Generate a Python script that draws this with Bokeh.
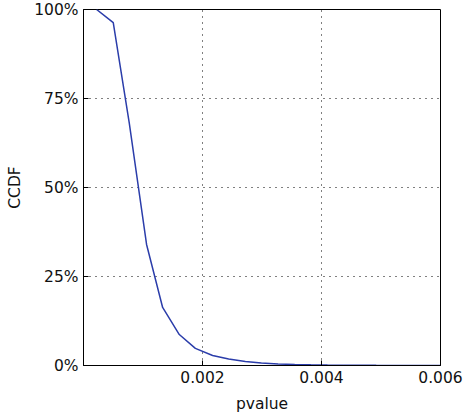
from bokeh.plotting import figure
from bokeh.models import FixedTicker, NumeralTickFormatter, Range1d
from bokeh.embed import file_html
from bokeh.resources import INLINE

pvalue = [0.00022, 0.00050, 0.00077, 0.00106, 0.00133, 0.00161, 0.00188, 0.00217,
          0.00244, 0.00272, 0.00299, 0.00327, 0.00355, 0.00382, 0.00410, 0.00437,
          0.00465, 0.00492, 0.00520, 0.00547, 0.00575, 0.00600]
ccdf = [1.000, 0.963, 0.68, 0.34, 0.163, 0.087, 0.048, 0.028,
        0.018, 0.011, 0.007, 0.0045, 0.003, 0.002, 0.0013, 0.0009,
        0.0006, 0.0004, 0.0003, 0.0002, 0.0001, 0.0]
x_ticks = [0.002, 0.004, 0.006]
x_tick_labels = ["0.002", "0.004", "0.006"]
y_ticks = [0.0, 0.25, 0.5, 0.75, 1.0]

FONT = "DejaVu Sans"

p = figure(width=464, height=415, output_backend="svg", toolbar_location=None,
           x_range=Range1d(0, 0.006), y_range=Range1d(0, 1.0),
           min_border_left=83, min_border_right=24, min_border_top=9, min_border_bottom=50)

p.line(pvalue, ccdf, line_color="#2b3daa", line_width=1.5)

for ax in (p.xaxis[0], p.yaxis[0]):
    ax.major_label_text_font = FONT
    ax.major_label_text_font_size = "15.5px"
    ax.major_label_text_color = "#111111"
    ax.axis_label_text_font = FONT
    ax.axis_label_text_font_size = "15.5px"
    ax.axis_label_text_font_style = "normal"
    ax.axis_label_text_color = "#111111"
    ax.major_tick_in = 5
    ax.major_tick_out = 0
    ax.minor_tick_line_color = None
    ax.axis_line_color = "black"
    ax.major_tick_line_color = "black"

p.xaxis.ticker = FixedTicker(ticks=x_ticks)
p.xaxis.major_label_overrides = {t: l for t, l in zip(x_ticks, x_tick_labels)}
p.xaxis.axis_label = "pvalue"
p.xaxis.major_label_standoff = 5
p.xaxis.axis_label_standoff = 9
p.yaxis.ticker = FixedTicker(ticks=y_ticks)
p.yaxis.formatter = NumeralTickFormatter(format="0%")
p.yaxis.axis_label = "CCDF"
p.yaxis.major_label_standoff = 5
p.yaxis.axis_label_standoff = 7

p.xgrid.ticker = FixedTicker(ticks=[0.002, 0.004])
p.ygrid.ticker = FixedTicker(ticks=[0.25, 0.5, 0.75])
for g in (p.xgrid[0], p.ygrid[0]):
    g.grid_line_color = "black"
    g.grid_line_dash = "1 5"
    g.grid_line_width = 1

p.outline_line_color = "black"
p.outline_line_alpha = 1
p.outline_line_width = 1

open("out.html", "w").write(file_html(p, INLINE))
